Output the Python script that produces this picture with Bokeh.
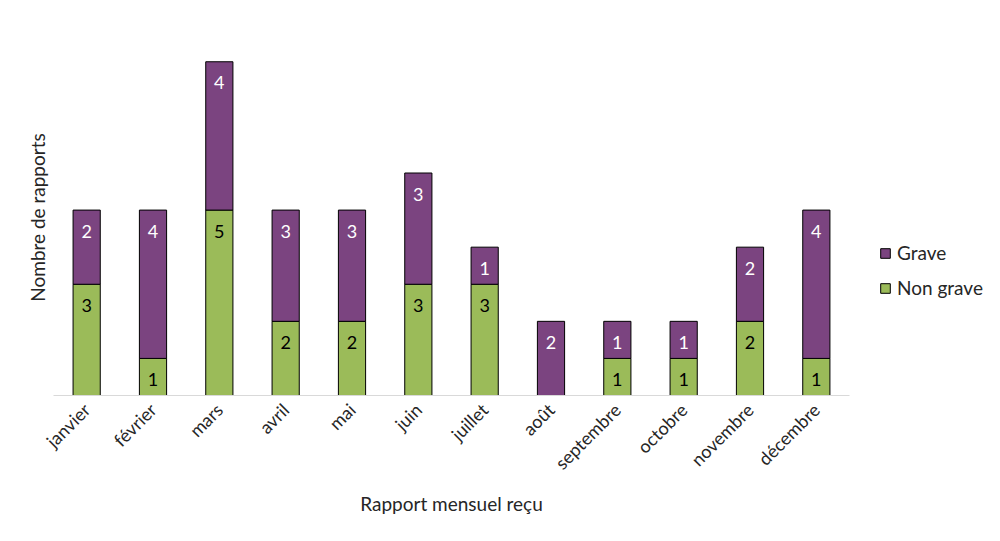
import math
from bokeh.plotting import figure
from bokeh.models import ColumnDataSource, Legend, LegendItem, Range1d, FactorRange
from bokeh.core.properties import value
from bokeh.embed import file_html
from bokeh.resources import INLINE

months = ["janvier", "février", "mars", "avril", "mai", "juin", "juillet",
          "août", "septembre", "octobre", "novembre", "décembre"]
non_grave = [3, 1, 5, 2, 2, 3, 3, 0, 1, 1, 2, 1]
grave = [2, 4, 4, 3, 3, 3, 1, 2, 1, 1, 2, 4]

PURPLE = "#7B4480"
GREEN = "#9BBB59"
FONT = "Lato"
FS = "18px"
FS_AX = "19px"

total = [a + b for a, b in zip(non_grave, grave)]
src = ColumnDataSource(dict(month=months, ng=non_grave, g=grave, total=total,
                            zero=[0] * len(months)))

p = figure(x_range=FactorRange(*months), y_range=Range1d(0, 9.6),
           frame_width=796, frame_height=356, output_backend="svg",
           toolbar_location=None,
           min_border_left=53, min_border_right=0, min_border_top=39,
           min_border_bottom=130)
p.outline_line_color = None
p.xgrid.grid_line_color = None
p.ygrid.grid_line_color = None

r_ng = p.vbar(x="month", bottom="zero", top="ng", width=0.41, source=src,
              fill_color=GREEN, line_color="black", line_width=1)
r_g = p.vbar(x="month", bottom="ng", top="total", width=0.41, source=src,
             fill_color=PURPLE, line_color="black", line_width=1)

# labels
ng_lab = ColumnDataSource(dict(
    month=[m for m, v in zip(months, non_grave) if v > 0],
    y=[v for v in non_grave if v > 0],
    t=[str(v) for v in non_grave if v > 0]))
g_lab = ColumnDataSource(dict(
    month=[m for m, v in zip(months, grave) if v > 0],
    y=[t for t, v in zip(total, grave) if v > 0],
    t=[str(v) for v in grave if v > 0]))
p.text(x="month", y="y", text="t", source=ng_lab, text_align="center",
       text_baseline="middle", y_offset=21, text_font=value(FONT),
       text_font_size=FS, text_color="black")
p.text(x="month", y="y", text="t", source=g_lab, text_align="center",
       text_baseline="middle", y_offset=21, text_font=value(FONT),
       text_font_size=FS, text_color="white")

# axes
xa = p.xaxis[0]
xa.axis_line_color = "#D9D9D9"
xa.major_tick_line_color = None
xa.minor_tick_line_color = None
xa.major_label_orientation = math.pi / 4
xa.major_label_text_font = FONT
xa.major_label_text_font_size = FS
xa.major_label_text_color = "#262626"
xa.axis_label = "Rapport mensuel reçu"
xa.axis_label_text_font = FONT
xa.axis_label_text_font_size = FS_AX
xa.axis_label_text_font_style = "normal"
xa.axis_label_text_color = "#262626"
xa.axis_label_standoff = 8

ya = p.yaxis[0]
ya.axis_line_color = None
ya.major_tick_line_color = None
ya.minor_tick_line_color = None
ya.major_label_text_font_size = "0px"
ya.ticker = []
ya.axis_label = "Nombre de rapports"
ya.axis_label_text_font = FONT
ya.axis_label_text_font_size = FS_AX
ya.axis_label_text_font_style = "normal"
ya.axis_label_text_color = "#262626"
ya.axis_label_standoff = 5

legend = Legend(items=[LegendItem(label="Grave", renderers=[r_g]),
                       LegendItem(label="Non grave", renderers=[r_ng])],
                location="top_left", title=" ")
legend.title_text_font_size = "2px"
legend.title_standoff = 170
legend.label_text_font = FONT
legend.label_text_font_size = FS_AX
legend.label_text_color = "#262626"
legend.glyph_width = 12
legend.glyph_height = 12
legend.spacing = 12
legend.border_line_color = None
legend.background_fill_alpha = 0
legend.padding = 31
legend.margin = 30
legend.label_standoff = 6
p.add_layout(legend, "right")

open("out.html", "w").write(file_html(p, INLINE))
